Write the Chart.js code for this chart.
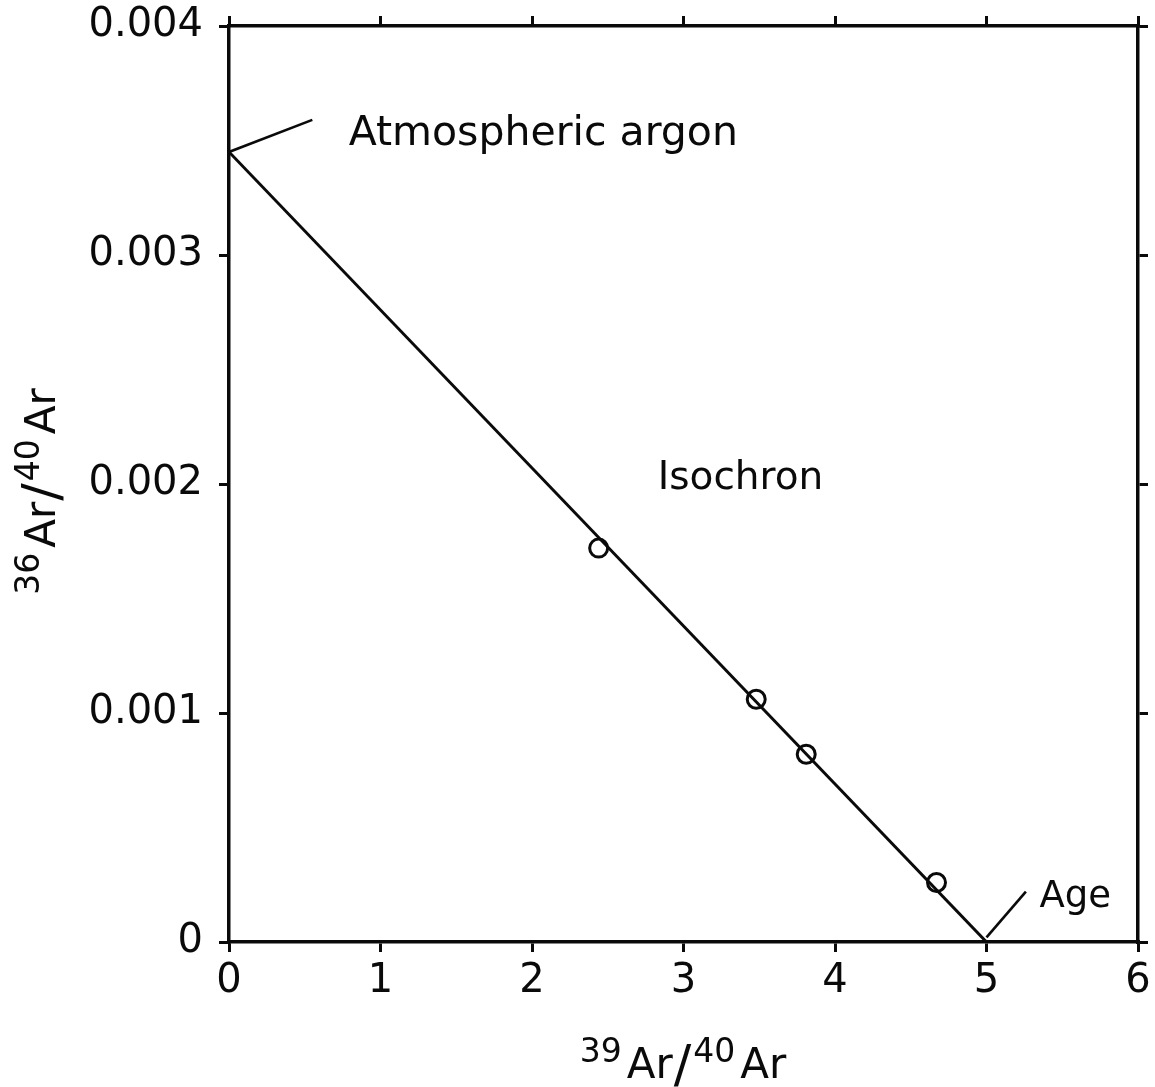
<!DOCTYPE html>
<html>
<head>
<meta charset="utf-8">
<script src="https://cdn.jsdelivr.net/npm/chart.js@4/dist/chart.umd.min.js"></script>
<style>
  html, body { margin: 0; padding: 0; background: #ffffff; }
  #wrap { width: 1155px; height: 1087px; }
</style>
</head>
<body>
<div id="wrap"><canvas id="iso" width="1155" height="1087"></canvas></div>
<script>
// Measured step-heating ratios (39Ar/40Ar, 36Ar/40Ar)
const sampleX = [2.44, 3.48, 3.81, 4.67];
const sampleY = [0.00172, 0.00106, 0.00082, 0.00026];

// Fitted isochron: atmospheric intercept on the y axis, age intercept on the x axis
const isochronX = [0, 5.0];
const isochronY = [0.00345, 0];

// Leader lines for the two intercept callouts
const atmLeaderX = [0, 0.55];
const atmLeaderY = [0.00345, 0.00359];
const ageLeaderX = [5.0, 5.26];
const ageLeaderY = [0.00002, 0.00022];

// Tick labels
const xTickLabels = ['0', '1', '2', '3', '4', '5', '6'];
const yTickLabels = ['0', '0.001', '0.002', '0.003', '0.004'];

// Callout texts and their anchors (left end of the baseline, in data units)
const noteText = ['Atmospheric argon', 'Isochron', 'Age'];
const noteX = [0.79, 2.83, 5.35];
const noteY = [0.00348, 0.00198, 0.000153];

const INK = '#0a0a0a';
const FONT = '"DejaVu Sans", sans-serif';

const toPts = (xs, ys) => xs.map((x, i) => ({ x: x, y: ys[i] }));

// Axis title pieces: superscript mass numbers around "Ar"
const xTitleParts = [['39', 'sup'], ['Ar', 'main'], ['/', 'slash'], ['40', 'sup'], ['Ar', 'main']];
const yTitleParts = [['36', 'sup'], ['Ar', 'main'], ['/', 'slash'], ['40', 'sup'], ['Ar', 'main']];

function partFont(kind) {
  if (kind === 'sup') return '33px ' + FONT;
  if (kind === 'slash') return '52px ' + FONT;
  return '42px ' + FONT;
}
function partRise(kind) { return kind === 'sup' ? 16 : (kind === 'slash' ? -4 : 0); }
function partGap(kind) { return kind === 'sup' ? 5 : (kind === 'slash' ? 2 : 1); }

function drawRatioTitle(ctx, parts, cx, baseline) {
  let total = 0;
  const widths = parts.map(p => {
    ctx.font = partFont(p[1]);
    const w = ctx.measureText(p[0]).width + partGap(p[1]);
    total += w;
    return w;
  });
  let x = cx - total / 2;
  ctx.textAlign = 'left';
  ctx.textBaseline = 'alphabetic';
  parts.forEach((p, i) => {
    ctx.font = partFont(p[1]);
    ctx.fillText(p[0], x, baseline - partRise(p[1]));
    x += widths[i];
  });
}

const paperPlugin = {
  id: 'paper',
  beforeDraw(chart) {
    const ctx = chart.ctx;
    ctx.save();
    ctx.fillStyle = '#ffffff';
    ctx.fillRect(0, 0, chart.width, chart.height);
    ctx.restore();
  },
  afterDraw(chart) {
    const ctx = chart.ctx;
    const area = chart.chartArea;
    const sx = chart.scales.x, sy = chart.scales.y;
    ctx.save();
    ctx.fillStyle = INK;
    // callouts
    const sizes = [41, 39, 37];
    noteText.forEach((t, i) => {
      ctx.font = sizes[i] + 'px ' + FONT;
      ctx.textAlign = 'left';
      ctx.textBaseline = 'alphabetic';
      ctx.fillText(t, sx.getPixelForValue(noteX[i]), sy.getPixelForValue(noteY[i]));
    });
    // x axis title
    drawRatioTitle(ctx, xTitleParts, (area.left + area.right) / 2, 1078);
    // y axis title, rotated
    ctx.translate(55, (area.top + area.bottom) / 2 + 7);
    ctx.rotate(-Math.PI / 2);
    drawRatioTitle(ctx, yTitleParts, 0, 0);
    ctx.restore();
  }
};

const lineStyle = {
  showLine: true,
  pointRadius: 0,
  borderColor: INK,
  borderWidth: 3,
  fill: false,
  tension: 0
};

const tickGrid = {
  drawOnChartArea: false,
  drawTicks: true,
  tickLength: 10,
  color: INK,
  lineWidth: 3
};
const axisBorder = { display: true, color: INK, width: 3.5 };

// keep the plot frame exactly where the axes are fixed, without label overhang padding
function noPad(s) {
  s.paddingLeft = 0; s.paddingRight = 0; s.paddingTop = 0; s.paddingBottom = 0;
}

new Chart(document.getElementById('iso'), {
  type: 'scatter',
  data: {
    datasets: [
      Object.assign({ label: 'Isochron', data: toPts(isochronX, isochronY) }, lineStyle),
      Object.assign({ label: 'Atmospheric leader', data: toPts(atmLeaderX, atmLeaderY) }, lineStyle, { borderWidth: 2.6 }),
      Object.assign({ label: 'Age leader', data: toPts(ageLeaderX, ageLeaderY) }, lineStyle, { borderWidth: 2.6 }),
      {
        label: 'Samples',
        data: toPts(sampleX, sampleY),
        pointStyle: 'circle',
        pointRadius: 9,
        pointBorderWidth: 3,
        pointBorderColor: INK,
        pointBackgroundColor: 'rgba(0,0,0,0)',
        showLine: false
      }
    ]
  },
  options: {
    responsive: false,
    animation: false,
    events: [],
    layout: { padding: 0 },
    plugins: { legend: { display: false }, tooltip: { enabled: false } },
    scales: {
      x: {
        type: 'linear', position: 'bottom', min: 0, max: 6,
        afterFit(s) { s.height = 145; noPad(s); },
        grid: tickGrid, border: axisBorder,
        ticks: {
          stepSize: 1, padding: 6, color: INK,
          font: { family: FONT, size: 40 },
          maxRotation: 0,
          callback: (v) => xTickLabels[Math.round(v)]
        }
      },
      xTop: {
        type: 'linear', position: 'top', min: 0, max: 6,
        afterFit(s) { s.height = 26; noPad(s); },
        grid: tickGrid, border: axisBorder,
        ticks: { stepSize: 1, display: false }
      },
      y: {
        type: 'linear', position: 'left', min: 0, max: 0.004,
        afterFit(s) { s.width = 229; noPad(s); },
        grid: tickGrid, border: axisBorder,
        ticks: {
          stepSize: 0.001, padding: 16, color: INK,
          font: { family: FONT, size: 40 },
          callback: (v) => yTickLabels[Math.round(v * 1000)]
        }
      },
      yRight: {
        type: 'linear', position: 'right', min: 0, max: 0.004,
        afterFit(s) { s.width = 17; noPad(s); },
        grid: tickGrid, border: axisBorder,
        ticks: { stepSize: 0.001, display: false }
      }
    }
  },
  plugins: [paperPlugin]
});
</script>
</body>
</html>
